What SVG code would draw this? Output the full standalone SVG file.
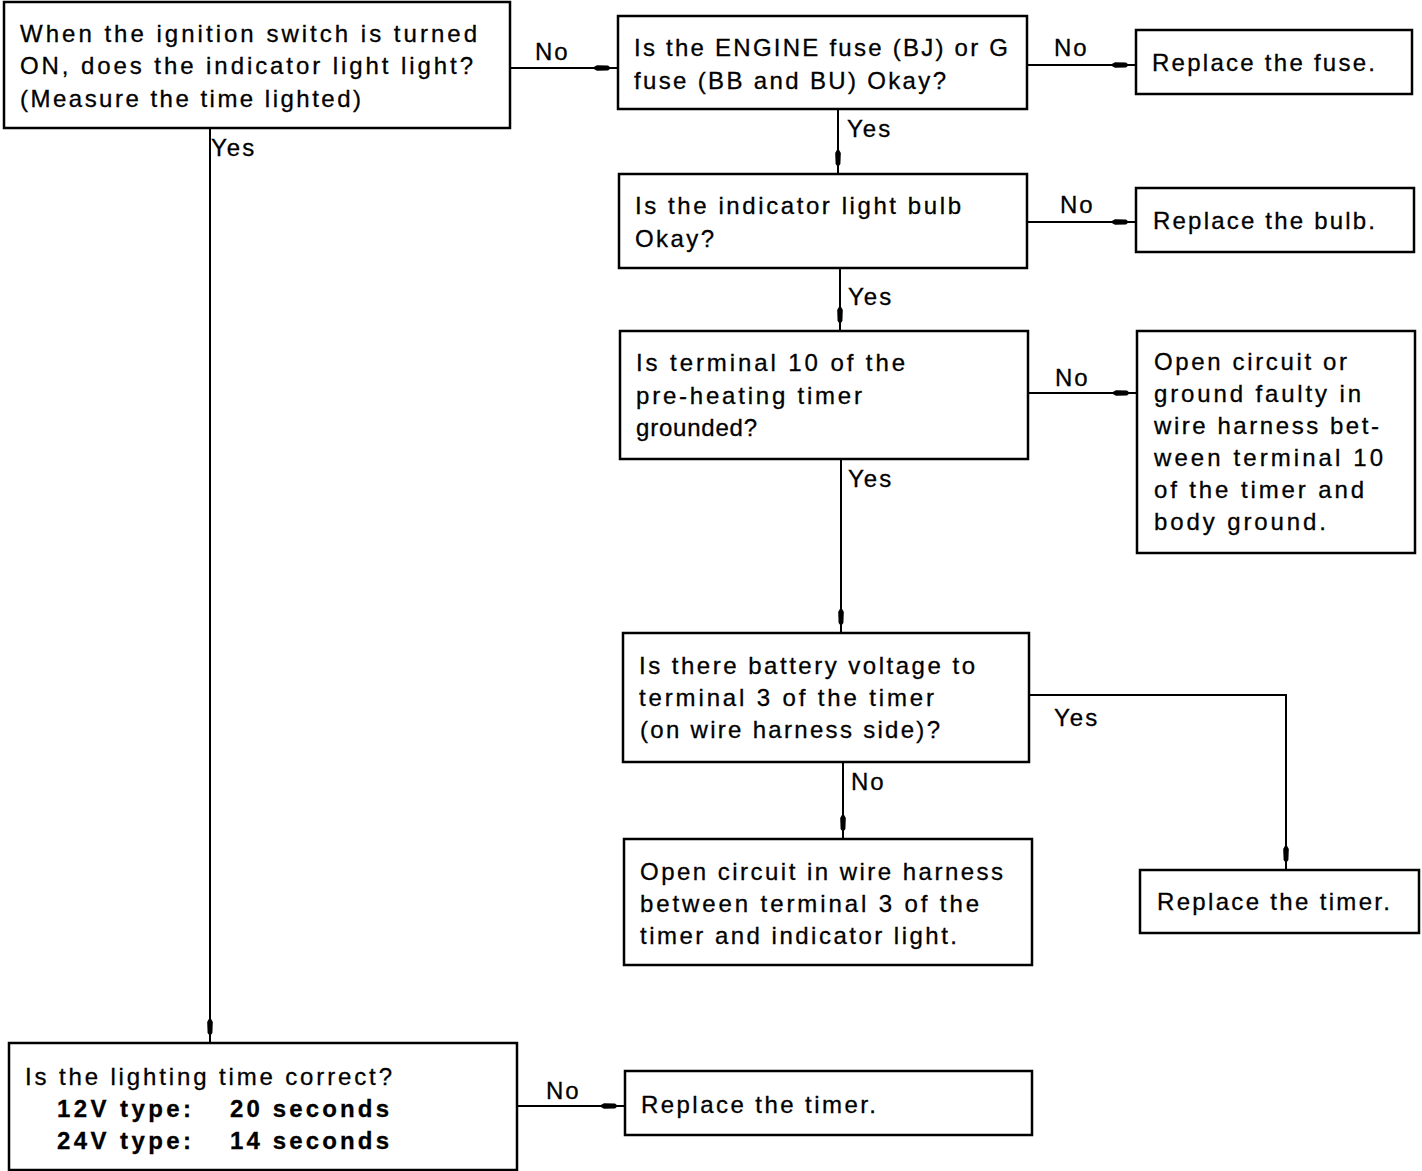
<svg xmlns="http://www.w3.org/2000/svg" width="1422" height="1171" viewBox="0 0 1422 1171">
<style>
.box{fill:#fff;stroke:#000;stroke-width:2.5}
.t{font-family:"Liberation Sans",Arial,sans-serif;font-size:24px;fill:#000;stroke:#000;stroke-width:0.3}
.l{letter-spacing:2px}
.b{font-weight:bold}
.c{fill:none;stroke:#000;stroke-width:2}
</style>
<defs>
<marker id="ah" markerUnits="userSpaceOnUse" viewBox="0 -4 30 8" refX="26" refY="0" markerWidth="30" markerHeight="8" orient="auto">
<path d="M0,0 L5,-2.8 L16,-2.4 L19,0 L16,2.4 L5,2.8 Z" fill="#000"/>
</marker>
</defs>
<rect width="1422" height="1171" fill="#fff"/>
<g id="connectors">
<path class="c" d="M510,68 H618" marker-end="url(#ah)"/>
<path class="c" d="M1027,65 H1136" marker-end="url(#ah)"/>
<path class="c" d="M838,109 V174" marker-end="url(#ah)"/>
<path class="c" d="M1027,222 H1136" marker-end="url(#ah)"/>
<path class="c" d="M840,268 V331" marker-end="url(#ah)"/>
<path class="c" d="M1028,393 H1137" marker-end="url(#ah)"/>
<path class="c" d="M841,459 V633" marker-end="url(#ah)"/>
<path class="c" d="M1029,695 H1286 V870" marker-end="url(#ah)"/>
<path class="c" d="M843,762 V839" marker-end="url(#ah)"/>
<path class="c" d="M210,128 V1043" marker-end="url(#ah)"/>
<path class="c" d="M517,1106 H625" marker-end="url(#ah)"/>
<text class="t l" x="535" y="60">No</text>
<text class="t l" x="1054" y="56">No</text>
<text class="t l" x="847" y="137">Yes</text>
<text class="t l" x="1060" y="213">No</text>
<text class="t l" x="848" y="305">Yes</text>
<text class="t l" x="1055" y="386">No</text>
<text class="t l" x="848" y="487">Yes</text>
<text class="t l" x="1054" y="726">Yes</text>
<text class="t l" x="851" y="790">No</text>
<text class="t l" x="211" y="156">Yes</text>
<text class="t l" x="546" y="1099">No</text>
</g>
<g id="n1">
<rect class="box" x="4" y="2" width="506" height="126"/>
<text class="t" x="20" y="42" textLength="457">When the ignition switch is turned</text>
<text class="t" x="20" y="74" textLength="453">ON, does the indicator light light?</text>
<text class="t" x="20" y="107" textLength="341">(Measure the time lighted)</text>
</g>
<g id="n2">
<rect class="box" x="618" y="16" width="409" height="93"/>
<text class="t" x="634" y="56" textLength="374">Is the ENGINE fuse (BJ) or G</text>
<text class="t" x="634" y="89" textLength="312">fuse (BB and BU) Okay?</text>
</g>
<g id="n3">
<rect class="box" x="1136" y="30" width="276" height="64"/>
<text class="t" x="1152" y="71" textLength="223">Replace the fuse.</text>
</g>
<g id="n4">
<rect class="box" x="619" y="174" width="408" height="94"/>
<text class="t" x="635" y="214" textLength="326">Is the indicator light bulb</text>
<text class="t" x="635" y="247" textLength="79">Okay?</text>
</g>
<g id="n5">
<rect class="box" x="1136" y="188" width="278" height="64"/>
<text class="t" x="1153" y="229" textLength="222">Replace the bulb.</text>
</g>
<g id="n6">
<rect class="box" x="620" y="331" width="408" height="128"/>
<text class="t" x="636" y="371" textLength="269">Is terminal 10 of the</text>
<text class="t" x="636" y="404" textLength="226">pre-heating timer</text>
<text class="t" x="636" y="436" textLength="121">grounded?</text>
</g>
<g id="n7">
<rect class="box" x="1137" y="331" width="278" height="222"/>
<text class="t" x="1154" y="370" textLength="193">Open circuit or</text>
<text class="t" x="1154" y="402" textLength="207">ground faulty in</text>
<text class="t" x="1154" y="434" textLength="225">wire harness bet-</text>
<text class="t" x="1154" y="466" textLength="229">ween terminal 10</text>
<text class="t" x="1154" y="498" textLength="210">of the timer and</text>
<text class="t" x="1154" y="530" textLength="172">body ground.</text>
</g>
<g id="n8">
<rect class="box" x="623" y="633" width="406" height="129"/>
<text class="t" x="639" y="674" textLength="336">Is there battery voltage to</text>
<text class="t" x="639" y="706" textLength="295">terminal 3 of the timer</text>
<text class="t" x="640" y="738" textLength="300">(on wire harness side)?</text>
</g>
<g id="n9">
<rect class="box" x="624" y="839" width="408" height="126"/>
<text class="t" x="640" y="880" textLength="363">Open circuit in wire harness</text>
<text class="t" x="640" y="912" textLength="339">between terminal 3 of the</text>
<text class="t" x="640" y="944" textLength="317">timer and indicator light.</text>
</g>
<g id="n10">
<rect class="box" x="1140" y="870" width="279" height="63"/>
<text class="t" x="1157" y="910" textLength="233">Replace the timer.</text>
</g>
<g id="n11">
<rect class="box" x="9" y="1043" width="508" height="127"/>
<text class="t" x="25" y="1085" textLength="367">Is the lighting time correct?</text>
<text class="t b" x="57" y="1117" textLength="134">12V type:</text>
<text class="t b" x="230" y="1117" textLength="159">20 seconds</text>
<text class="t b" x="57" y="1149" textLength="134">24V type:</text>
<text class="t b" x="230" y="1149" textLength="159">14 seconds</text>
</g>
<g id="n12">
<rect class="box" x="625" y="1071" width="407" height="64"/>
<text class="t" x="641" y="1113" textLength="235">Replace the timer.</text>
</g>
</svg>
